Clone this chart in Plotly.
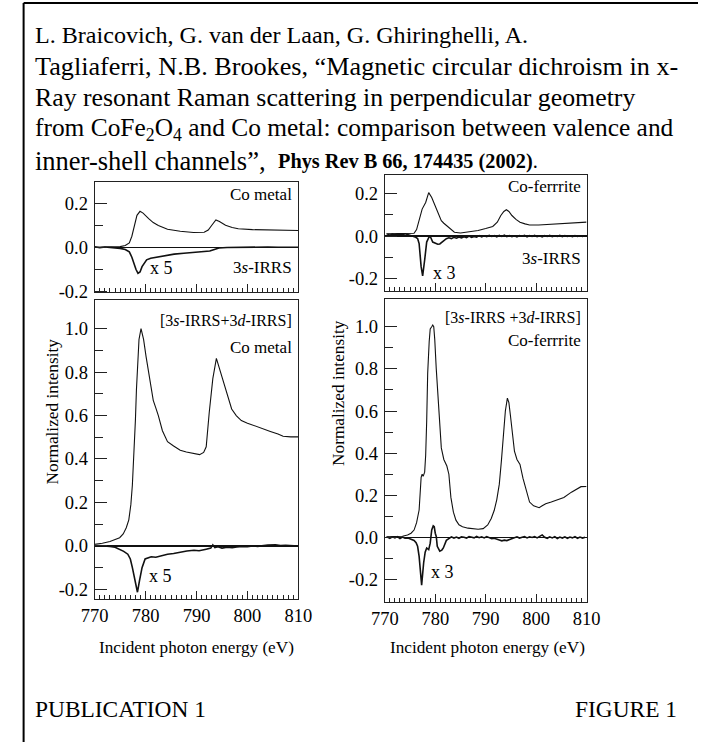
import plotly.graph_objects as go

W, H = 712, 751

# ---- data (energy in eV, normalized intensity) ----
# Co metal, 3s-IRRS (top left)
cm3s_energy = [770, 772, 774, 775, 776, 776.8, 777.3, 777.8, 778.3, 778.9,
               779.5, 780.6, 781.5, 782.5, 784.3, 786.8, 789.4, 791.5, 792.3, 793.0,
               793.8, 794.5, 795.7, 797.0, 798.2, 801.0, 805.0, 810.0]
cm3s_intensity = [0.0, 0.0, 0.001, 0.003, 0.008, 0.02, 0.05, 0.10, 0.145, 0.163,
                  0.155, 0.13, 0.112, 0.099, 0.082, 0.073, 0.067, 0.068, 0.078, 0.10,
                  0.124, 0.117, 0.10, 0.09, 0.084, 0.08, 0.077, 0.076]
cm3s_mcd_energy = [770, 771, 772, 773, 774, 775, 776, 776.8, 777.3, 777.7,
                   778.1, 778.5, 778.9, 779.3, 779.8, 780.2, 781, 782.5, 784, 785.6,
                   787.5, 789.4, 791, 792.6, 793.5, 794.4, 796, 798, 800, 802,
                   804, 806, 808, 810]
cm3s_mcd = [0.002, -0.002, 0.001, -0.001, -0.002, -0.005, -0.01, -0.021, -0.045, -0.073,
            -0.1, -0.118, -0.112, -0.088, -0.068, -0.057, -0.05, -0.043, -0.037, -0.031,
            -0.027, -0.024, -0.02, -0.017, -0.01, -0.003, -0.001, 0.0, -0.001, 0.0,
            0.001, 0.0, -0.001, 0.0]

# Co metal, 3s+3d IRRS (bottom left)
cmsum_energy = [770, 771.5, 773, 774, 774.9, 775.6, 776.2, 776.7, 777.1, 777.4,
                777.7, 778.0, 778.2, 778.5, 778.7, 779.1, 779.6, 780.1, 780.6, 781.0,
                781.5, 782.0, 782.5, 783.3, 784.3, 785.5, 786.8, 788.0, 789.4, 790.6,
                791.4, 791.9, 792.5, 793.2, 793.9, 794.7, 795.7, 796.9, 797.8, 798.8,
                800, 801.3, 803, 804.5, 806, 807, 808.5, 810]
cmsum_intensity = [0.008, 0.012, 0.02, 0.028, 0.038, 0.055, 0.084, 0.12, 0.19, 0.28,
                   0.418, 0.58, 0.72, 0.87, 0.95, 1.0, 0.95, 0.87, 0.80, 0.74,
                   0.67, 0.635, 0.60, 0.53, 0.48, 0.46, 0.44, 0.432, 0.426, 0.42,
                   0.43, 0.456, 0.615, 0.77, 0.863, 0.80, 0.72, 0.63, 0.60, 0.577,
                   0.565, 0.555, 0.54, 0.527, 0.515, 0.505, 0.502, 0.502]
cmsum_mcd_energy = [770, 771, 772, 773, 774, 774.9, 775.7, 776.5, 777.0, 777.4,
                    777.8, 778.1, 778.4, 778.8, 779.3, 779.9, 780.5, 781.1, 782, 783,
                    784.3, 785.5, 786.5, 788.1, 789.5, 790.5, 791.9, 792.8, 793.2, 793.6,
                    794.2, 795, 796, 797, 797.9, 799, 800, 801, 802, 803,
                    804, 805.5, 806.5, 807.5, 808.5, 810]
cmsum_mcd = [0.003, 0.001, 0.002, -0.002, -0.006, -0.015, -0.025, -0.038, -0.06, -0.1,
             -0.15, -0.185, -0.213, -0.16, -0.1, -0.06, -0.055, -0.05, -0.052, -0.045,
             -0.038, -0.035, -0.03, -0.023, -0.02, -0.022, -0.015, -0.01, 0.005, -0.008,
             -0.004, -0.01, -0.006, -0.008, -0.005, -0.002, -0.004, 0.0, -0.002, 0.002,
             0.004, 0.005, 0.002, 0.003, 0.001, 0.0]

# Co-ferrite, 3s-IRRS (top right)
cf3s_energy = [770.3, 772, 774, 775.3, 775.8, 776.3, 776.8, 777.4, 778.1, 778.7,
               779.3, 779.8, 780.3, 780.8, 781.2, 781.7, 782.2, 783, 783.8, 785,
               786.5, 788.5, 790, 791.4, 792.3, 793, 793.6, 794.1, 794.6, 795.2,
               796, 796.8, 797.8, 798.7, 800.5, 802.5, 805, 807.5, 810]
cf3s_intensity = [0.01, 0.011, 0.009, 0.01, 0.013, 0.03, 0.07, 0.126, 0.157, 0.203,
                  0.18, 0.15, 0.119, 0.093, 0.072, 0.06, 0.049, 0.032, 0.018, 0.014,
                  0.018, 0.026, 0.035, 0.045, 0.065, 0.096, 0.115, 0.123, 0.115, 0.096,
                  0.078, 0.065, 0.057, 0.052, 0.052, 0.054, 0.057, 0.061, 0.065]
cf3s_mcd_energy = [770.5, 771, 771.5, 772, 772.5, 773, 773.5, 774, 774.5, 775,
                   775.5, 776, 776.5, 776.8, 777.2, 777.5, 777.9, 778.3, 778.7, 779.0,
                   779.5, 780.0, 780.5, 780.9, 781.3, 781.7,
                   782.2, 782.7, 783.2, 783.7, 784.2, 784.7, 785.2, 785.7, 786.2, 786.7,
                   787.2, 787.7, 788.2, 788.7, 789.2, 789.7, 790.2, 790.7, 791.2, 791.7,
                   792.2, 792.7, 793.2, 793.7, 794.2, 794.7, 795.2, 795.7, 796.2, 796.7,
                   797.2, 797.7, 798.2, 798.7, 799.2, 799.7, 800.2, 800.7, 801.2, 801.7,
                   802.2, 802.7, 803.2, 803.7, 804.2, 804.7, 805.2, 805.7, 806.2, 806.7,
                   807.2, 807.7, 808.2, 808.7, 809.2, 809.7]
cf3s_mcd = [0.008, 0.004, 0.009, 0.005, 0.01, 0.006, 0.009, 0.004, 0.007, 0.003,
            0.002, -0.004, -0.012, -0.035, -0.143, -0.186, -0.112, -0.028, -0.008, -0.001,
            -0.028, -0.035, -0.038, -0.037, -0.03, -0.02,
            -0.012, -0.008, -0.012, -0.006, -0.01, -0.004, -0.009, -0.003, -0.007, 0.0,
            -0.006, -0.002, -0.005, 0.002, -0.004, 0.001, -0.003, 0.003, -0.002, 0.002,
            -0.004, 0.003, -0.002, 0.004, -0.003, 0.002, -0.003, 0.001, -0.004, 0.002,
            -0.001, 0.003, -0.004, 0.002, -0.002, 0.003, -0.003, 0.001, -0.004, 0.002,
            -0.002, 0.003, -0.003, 0.001, -0.002, 0.003, -0.003, 0.002, -0.002, 0.001,
            -0.003, 0.002, -0.002, 0.001, -0.002, 0.001]

# Co-ferrite, 3s+3d IRRS (bottom right)
cfsum_energy = [770.3, 772, 773.5, 774.5, 775.2, 775.8, 776.3, 776.8, 777.0, 777.2,
                777.4, 777.6, 777.9, 778.1, 778.3, 778.5, 778.8, 779.0, 779.3, 779.5,
                779.7, 779.9, 780.2, 780.6, 780.9, 781.2, 781.7, 782.0, 782.3, 782.7,
                783.1, 783.6, 784.1, 784.7, 785.4, 786.5, 787.5, 788.5, 789.5, 790.4,
                791.1, 791.7, 792.2, 792.7, 793.1, 793.5, 793.9, 794.3, 794.6, 794.9,
                795.3, 795.7, 796.2, 796.8, 797.4, 798, 798.7, 799.5, 800.6, 801.2,
                801.9, 803, 804.4, 805.5, 807, 808, 808.9, 810]
cfsum_intensity = [0.003, 0.004, 0.006, 0.012, 0.02, 0.035, 0.07, 0.13, 0.19, 0.285,
                   0.30, 0.29, 0.31, 0.39, 0.55, 0.78, 0.93, 0.99, 1.0, 1.008,
                   1.0, 0.94, 0.80, 0.627, 0.52, 0.425, 0.37, 0.355, 0.339, 0.30,
                   0.19, 0.12, 0.082, 0.06, 0.051, 0.044, 0.04, 0.039, 0.042, 0.059,
                   0.09, 0.129, 0.18, 0.253, 0.36, 0.502, 0.6, 0.661, 0.64, 0.58,
                   0.48, 0.41, 0.37, 0.347, 0.28, 0.222, 0.168, 0.15, 0.141, 0.15,
                   0.16, 0.168, 0.179, 0.19, 0.215, 0.23, 0.241, 0.242]
cfsum_mcd_energy = [770.5, 771, 771.5, 772, 772.5, 773, 773.5, 774,
                    774.6, 775.2, 775.8, 776.2, 776.5, 776.8, 777.0, 777.3, 777.7, 778.0,
                    778.3, 778.7, 779.0, 779.3, 779.6, 779.8, 780.0, 780.2, 780.4, 780.9,
                    781.3, 781.6,
                    782.2, 782.7, 783.2, 783.7, 784.2, 784.7, 785.2, 785.7, 786.2, 786.7,
                    787.2, 787.7, 788.2, 788.7, 789.2, 789.7, 790.2, 790.7, 791.2, 791.7,
                    792.2, 792.7, 793.2, 793.7, 794.2, 794.7, 795.2, 795.7, 796.2, 796.7,
                    797.2, 797.7, 798.2, 798.7, 799.2, 799.7, 800.2, 800.7, 801.2, 801.7,
                    802.2, 802.7, 803.2, 803.7, 804.2, 804.7, 805.2, 805.7, 806.2, 806.7,
                    807.2, 807.7, 808.2, 808.7, 809.2, 809.7]
cfsum_mcd = [0.002, -0.004, 0.003, -0.002, 0.004, -0.005, 0.002, -0.003,
             -0.003, -0.008, -0.014, -0.025, -0.042, -0.09, -0.135, -0.226, -0.12, -0.07,
             -0.05, -0.058, -0.027, 0.036, 0.055, 0.051, 0.02, 0.005, -0.042, -0.065,
             -0.06, -0.05,
             -0.014, -0.004, 0.003, -0.003, 0.002, -0.004, 0.003, 0.001, -0.003, 0.004,
             0.002, -0.002, 0.005, -0.001, 0.003, -0.002, 0.004, 0.0, -0.006, -0.004,
             -0.01, -0.012, -0.016, -0.013, -0.015, -0.01, -0.006, -0.002, 0.003, -0.003,
             0.002, 0.004, -0.002, 0.003, 0.0, 0.004, -0.002, 0.006, 0.012, 0.001,
             -0.004, 0.003, -0.002, 0.004, -0.005, 0.002, -0.003, 0.003, -0.004, 0.002,
             -0.002, 0.004, -0.004, 0.002, -0.003, 0.001]

x_ticks = [770, 780, 790, 800, 810]
y_ticks_small = [-0.2, 0.0, 0.2]
y_ticks_big = [-0.2, 0.0, 0.2, 0.4, 0.6, 0.8, 1.0]

FONT = "Liberation Serif, Times New Roman, serif"
AX = "#222222"


def px(x):
    return x / W


def py(y):
    return 1 - y / H


# panel boxes in pixels: (left, top, right, bottom)
panels = {
    "tl": (84, 184, 296, 296),
    "bl": (84, 304, 296, 606),
    "tr": (386, 177, 596, 295),
    "br": (386, 303, 596, 609),
}

fig = go.Figure()

series = [
    ("x", "y", cm3s_energy, cm3s_intensity, cm3s_mcd_energy, cm3s_mcd),
    ("x2", "y2", cmsum_energy, cmsum_intensity, cmsum_mcd_energy, cmsum_mcd),
    ("x3", "y3", cf3s_energy, cf3s_intensity, cf3s_mcd_energy, cf3s_mcd),
    ("x4", "y4", cfsum_energy, cfsum_intensity, cfsum_mcd_energy, cfsum_mcd),
]
for xa, ya, e, i, me, m in series:
    fig.add_trace(go.Scatter(x=e, y=i, xaxis=xa, yaxis=ya, mode="lines",
                             line=dict(color="#111111", width=1.1), showlegend=False,
                             hoverinfo="skip"))
    fig.add_trace(go.Scatter(x=me, y=m, xaxis=xa, yaxis=ya, mode="lines",
                             line=dict(color="#111111", width=1.6), showlegend=False,
                             hoverinfo="skip"))


def x_axis(box, labels):
    l, t, r, b = box
    return dict(domain=[px(l), px(r)], range=[770, 810], showline=True, linecolor=AX,
                linewidth=1, mirror=True, ticks="inside", ticklen=8, tickcolor=AX,
                tickmode="array", tickvals=x_ticks, showticklabels=labels,
                tickfont=dict(size=18.5, color="black"), showgrid=False, zeroline=False,
                minor=dict(ticks="inside", ticklen=4, dtick=1, tick0=770,
                           tickcolor=AX, showgrid=False))


def y_axis(box, rng, ticks, minor_vals):
    l, t, r, b = box
    return dict(domain=[py(b), py(t)], range=rng, showline=True, linecolor=AX,
                linewidth=1, mirror=True, ticks="inside", ticklen=12, tickcolor=AX,
                tickmode="array", tickvals=ticks,
                ticktext=[f"{v:.1f}" for v in ticks],
                tickfont=dict(size=18.5, color="black"), ticklabelstandoff=2,
                showgrid=False,
                zeroline=True, zerolinecolor="#111111", zerolinewidth=1.2,
                minor=dict(ticks="inside", ticklen=8, tickmode="array",
                           tickvals=minor_vals, tickcolor=AX, showgrid=False))


fig.update_layout(
    xaxis=dict(x_axis(panels["tl"], False), anchor="y"),
    yaxis=dict(y_axis(panels["tl"], [-0.205, 0.297], y_ticks_small, [-0.1, 0.1]), anchor="x"),
    xaxis2=dict(x_axis(panels["bl"], True), anchor="y2"),
    yaxis2=dict(y_axis(panels["bl"], [-0.243, 1.13], y_ticks_big,
                       [-0.1, 0.1, 0.3, 0.5, 0.7, 0.9]), anchor="x2"),
    xaxis3=dict(x_axis(panels["tr"], False), anchor="y3"),
    yaxis3=dict(y_axis(panels["tr"], [-0.259, 0.286], y_ticks_small, [-0.1, 0.1]), anchor="x3"),
    xaxis4=dict(x_axis(panels["br"], True), anchor="y4"),
    yaxis4=dict(y_axis(panels["br"], [-0.305, 1.13], y_ticks_big,
                       [-0.1, 0.1, 0.3, 0.5, 0.7, 0.9]), anchor="x4"),
)

annotations = []


def note(text, x, y, size, xanchor="center", angle=0):
    annotations.append(dict(text=text, x=px(x), y=py(y), xref="paper", yref="paper",
                            xanchor=xanchor, yanchor="middle", showarrow=False,
                            textangle=angle, font=dict(size=size, color="black")))


# citation header (one annotation per printed line)
header = [
    ("L. Braicovich, G. van der Laan, G. Ghiringhelli, A.", 24.1),
    ("Tagliaferri, N.B. Brookes, \u201cMagnetic circular dichroism in x-", 26.2),
    ("Ray resonant Raman scattering in perpendicular geometry", 25.8),
    ("from CoFe<sub>2</sub>O<sub>4</sub> and Co metal: comparison between valence and", 25.4),
    ("inner-shell channels\u201d,", 26.5),
]
for k, (line, size) in enumerate(header):
    note(line, 20, 35 + 32 * k, size, "left")
note("<b>Phys Rev B 66, 174435 (2002)</b>.", 273, 163, 20.3, "left")

# panel labels
note("Co metal", 291, 197, 17, "right")
note("3<i>s</i>-IRRS", 291, 271, 17, "right")
note("x 5", 154, 271, 18)
note("Co-ferrrite", 592, 189, 17, "right")
note("3<i>s</i>-IRRS", 592, 262, 17, "right")
note("x 3", 448, 276, 18)
note("[3<i>s</i>-IRRS+3<i>d</i>-IRRS]", 291, 324, 16, "right")
note("Co metal", 291, 352, 17, "right")
note("x 5", 153, 583, 18)
note("[3<i>s</i>-IRRS +3<i>d</i>-IRRS]", 592, 321, 16, "right")
note("Co-ferrrite", 592, 345, 17, "right")
note("x 3", 446, 579, 18)

# axis titles
note("Normalized intensity", 40, 416, 17.3, angle=-90)
note("Normalized intensity", 337, 398, 17.3, angle=-90)
note("Incident photon energy (eV)", 190, 655, 17.2)
note("Incident photon energy (eV)", 493, 655, 17.2)

# footer
note("PUBLICATION 1", 20, 718, 23.4, "left")
note("FIGURE 1", 692, 718, 23.4, "right")

fig.update_layout(
    annotations=annotations,
    shapes=[
        dict(type="line", xref="paper", yref="paper", x0=px(10), x1=1, y0=py(3), y1=py(3),
             line=dict(color="black", width=2)),
        dict(type="line", xref="paper", yref="paper", x0=px(10), x1=px(10), y0=py(3), y1=0,
             line=dict(color="black", width=2)),
    ],
    width=W, height=H, autosize=False,
    margin=dict(l=0, r=0, t=0, b=0),
    paper_bgcolor="white", plot_bgcolor="white",
    font=dict(family=FONT, color="black"),
    hovermode=False,
)

fig.write_html("out.html", config={"displayModeBar": False, "staticPlot": True},
               post_script="document.body.style.margin='0';document.body.style.overflow='hidden';")
